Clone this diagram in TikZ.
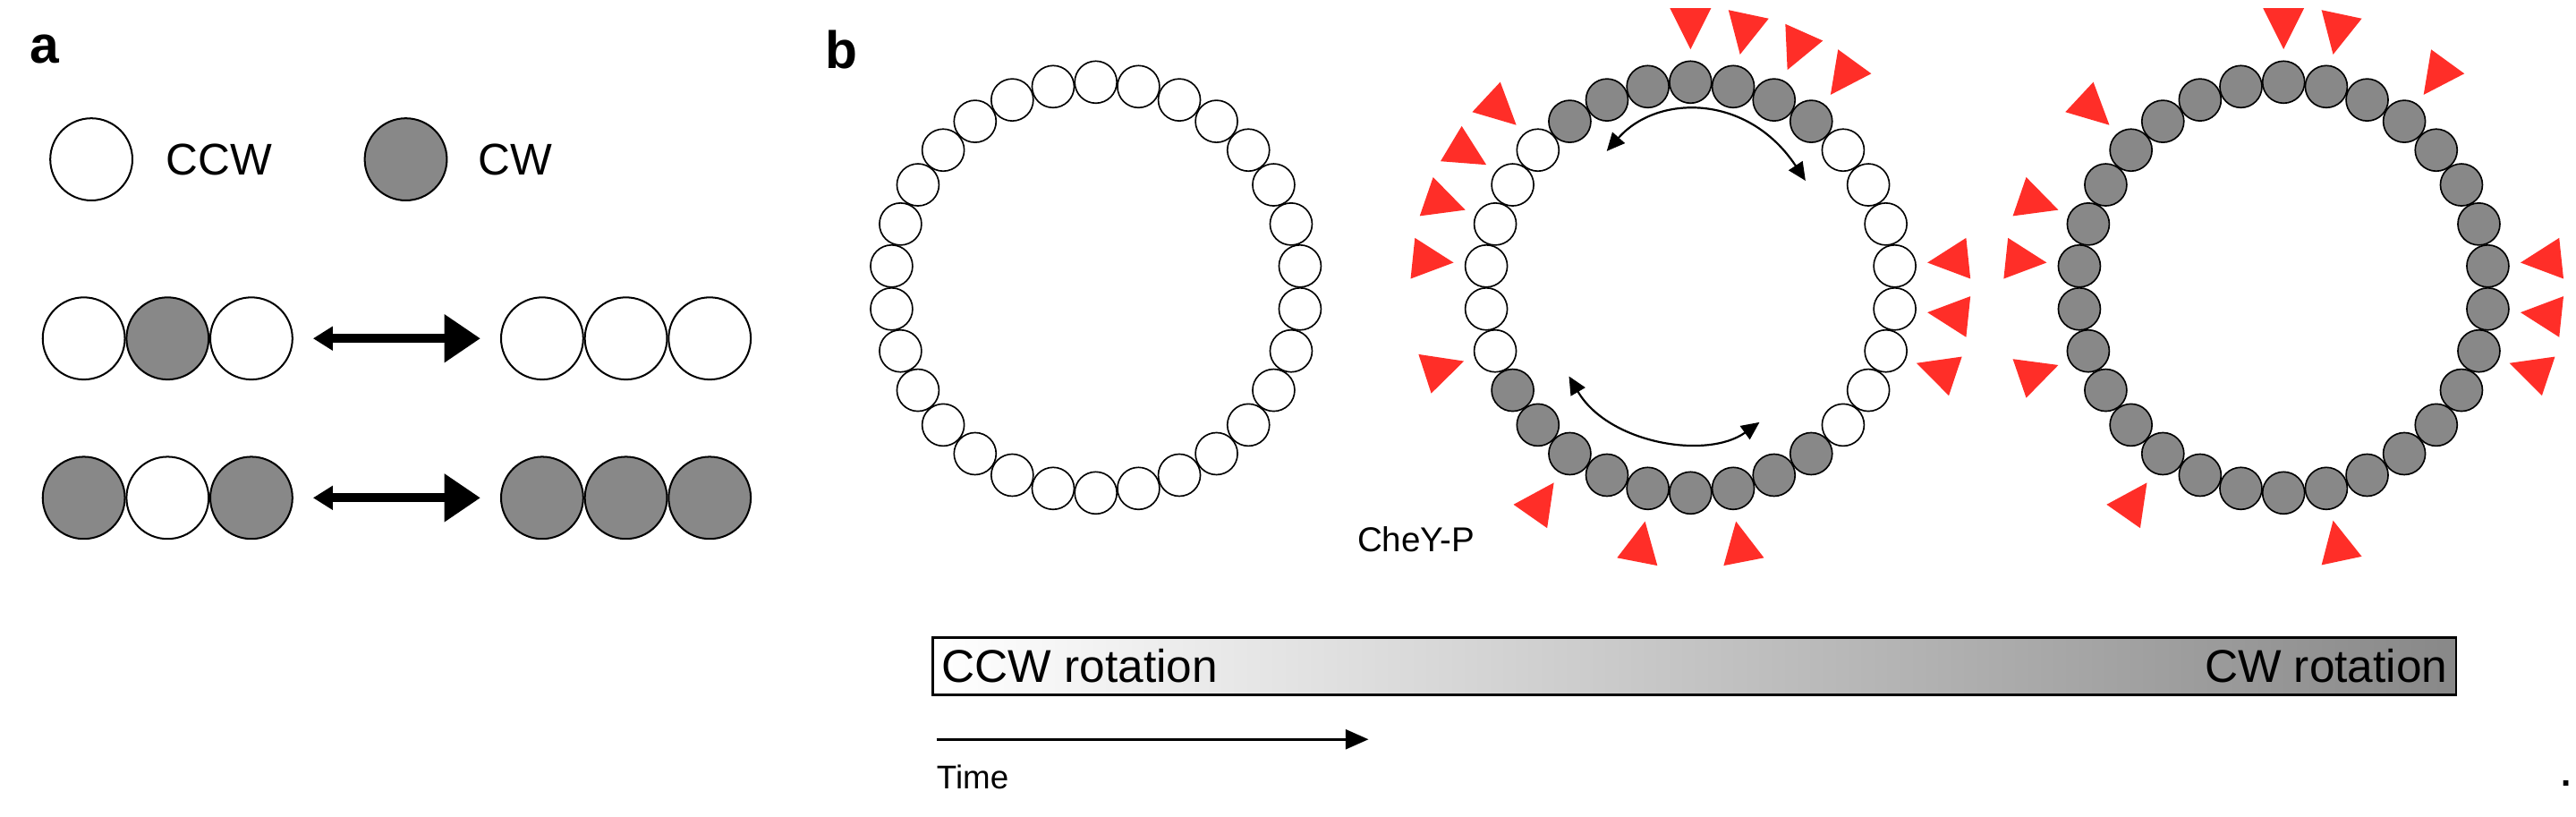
\documentclass[tikz,border=0pt]{standalone}
\usepackage{fontspec}
\setmainfont{Liberation Sans}
\usetikzlibrary{arrows.meta,calc}
\definecolor{cwgray}{HTML}{888888}
\definecolor{chey}{RGB}{255,46,40}
\begin{document}
\begin{tikzpicture}[x=1pt,y=1pt,
  sub/.style={circle,draw=black,line width=0.9pt,minimum size=25.6pt,inner sep=0pt},
  big/.style={circle,draw=black,line width=1.1pt,minimum size=50pt,inner sep=0pt},
  on/.style={fill=cwgray},
  off/.style={fill=white},
  tri/.style={fill=chey},
  lbl/.style={font=\fontsize{27}{30}\selectfont,inner sep=0pt,anchor=west},
  plab/.style={font=\fontsize{32}{34}\selectfont\bfseries,inner sep=0pt},
  swap/.style={line width=5.5pt,{Triangle[length=12pt,width=14pt]}-{Triangle[length=22pt,width=28pt]}},
  dbl/.style={line width=1.2pt,{Triangle[length=11pt,width=10pt]}-{Triangle[length=11pt,width=10pt]}}
]
\useasboundingbox (0,0) rectangle (1568,497);
% panel a
\node[plab] (la) at (27,467) {a};
\node[big,off] (kccw) at (55.6,400) {};
\node[lbl] (tccw) at (101,400) {CCW};
\node[big,on] (kcw) at (247,400) {};
\node[lbl] (tcw) at (291,400) {CW};
\node[big,off] (r1a) at (51,291) {};
\node[big,on]  (r1b) at (102,291) {};
\node[big,off] (r1c) at (153,291) {};
\node[big,off] (r1d) at (330,291) {};
\node[big,off] (r1e) at (381,291) {};
\node[big,off] (r1f) at (432,291) {};
\node[big,on]  (r2a) at (51,194) {};
\node[big,off] (r2b) at (102,194) {};
\node[big,on]  (r2c) at (153,194) {};
\node[big,on]  (r2d) at (330,194) {};
\node[big,on]  (r2e) at (381,194) {};
\node[big,on]  (r2f) at (432,194) {};
\draw[swap] ([xshift=12pt]r1c.east) -- ([xshift=-12pt]r1d.west);
\draw[swap] ([xshift=12pt]r2c.east) -- ([xshift=-12pt]r2d.west);
% panel b
\node[plab] (lb) at (512,467) {b};
\coordinate (cL) at (667,322);
\coordinate (cM) at (1029,322);
\coordinate (cR) at (1390,322);
\foreach \k in {0,...,29}{
  \pgfmathsetmacro{\ang}{90-12*\k}
  \node[sub,off] (L\k) at ($(cL)+(\ang:125)$) {};
  \node[sub,on] (R\k) at ($(cR)+(\ang:125)$) {};
}
\foreach \k in {0,...,29}{
  \pgfmathsetmacro{\ang}{90-12*\k}
  \pgfmathtruncatemacro{\isOn}{(\k<=3)||(\k>=27)||((\k>=12)&&(\k<=20))}
  \ifnum\isOn=1
    \node[sub,on] (M\k) at ($(cM)+(\ang:125)$) {};
  \else
    \node[sub,off] (M\k) at ($(cM)+(\ang:125)$) {};
  \fi
}
% CheY-P triangles
\foreach \a in {90,78,66,54,137,149,161,174,198,235,259,281,6,-6,-18.5}{
  \fill[tri,shift={(cM)},rotate=\a] (145,0) -- (170,12.5) -- (170,-12.5) -- cycle;
}
\foreach \a in {90,78,54,137,161,174,199,235,282,6,-6,-18.5}{
  \fill[tri,shift={(cR)},rotate=\a] (145,0) -- (170,12.5) -- (170,-12.5) -- cycle;
}
% switching arrows
\coordinate (a1s) at ($(cM)+(-51,83)$);
\coordinate (a1e) at ($(cM)+(70,65)$);
\coordinate (a2s) at ($(cM)+(-74,-54)$);
\coordinate (a2e) at ($(cM)+(42,-82)$);
\draw[dbl] (a1s) .. controls ($(cM)+(-20,118)$) and ($(cM)+(35,118)$) .. (a1e);
\draw[dbl] (a2s) .. controls ($(cM)+(-50,-95)$) and ($(cM)+(10,-105)$) .. (a2e);
\node[font=\fontsize{21}{22}\selectfont,inner sep=0pt] (cheyp) at (862,169) {CheY-P};
% gradient bar
\shade[left color=white,right color=cwgray,draw=black,line width=1.6pt] (568,74) rectangle (1495,109);
\node[font=\fontsize{28}{30}\selectfont,inner sep=0pt,anchor=west] (tccwr) at (573,91.5) {CCW rotation};
\node[font=\fontsize{28}{30}\selectfont,inner sep=0pt,anchor=east] (tcwr) at (1490,91.5) {CW rotation};
% time
\coordinate (t0) at (570,47);
\coordinate (t1) at (833,47);
\draw[line width=1.4pt,-{Triangle[length=14pt,width=12pt]}] (t0) -- (t1);
\node[font=\fontsize{20}{22}\selectfont,inner sep=0pt,anchor=west] (time) at (570,24) {Time};
\node[font=\fontsize{22}{22}\selectfont\bfseries,inner sep=0pt] (dot) at (1562,20) {.};
\end{tikzpicture}
\end{document}
